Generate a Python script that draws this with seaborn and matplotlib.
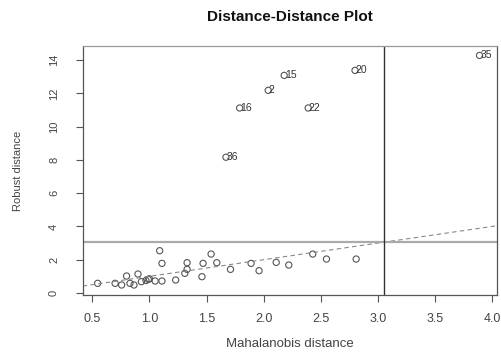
import matplotlib
matplotlib.use("Agg")
import matplotlib.pyplot as plt
import seaborn as sns
import pandas as pd

# ---- data ----
mahalanobis = [0.547, 0.70, 0.757, 0.80, 0.83, 0.865, 0.90, 0.93, 0.97, 0.99,
               1.00, 1.05, 1.09, 1.11, 1.11, 1.23, 1.31, 1.33, 1.33, 1.46,
               1.47, 1.54, 1.59, 1.71, 1.89, 1.96, 2.11, 2.22, 2.43, 2.55,
               2.81]
robust = [0.58, 0.58, 0.48, 1.02, 0.58, 0.48, 1.14, 0.68, 0.75, 0.82,
          0.85, 0.72, 2.54, 1.78, 0.72, 0.78, 1.18, 1.82, 1.42, 0.98,
          1.78, 2.34, 1.82, 1.42, 1.78, 1.34, 1.84, 1.68, 2.34, 2.04,
          2.04]
out_labels = ["35", "20", "15", "2", "16", "22", "36"]
out_md = [3.89, 2.80, 2.18, 2.04, 1.79, 2.39, 1.67]
out_rd = [14.28, 13.38, 13.08, 12.18, 11.12, 11.12, 8.16]
cutoff = 3.057
x_ticks = [0.5, 1.0, 1.5, 2.0, 2.5, 3.0, 3.5, 4.0]
y_ticks = [0, 2, 4, 6, 8, 10, 12, 14]

df = pd.DataFrame({"md": mahalanobis + out_md, "rd": robust + out_rd})

sns.set_style("white")
plt.rcParams["font.family"] = ["Liberation Sans", "DejaVu Sans"]

fig = plt.figure(figsize=(5.02, 3.52), dpi=100)
ax = fig.add_axes([0.1647, 0.162, 0.8247, 0.707])

sns.scatterplot(data=df, x="md", y="rd", marker="o", s=20,
                facecolor="none", edgecolor="#555555", linewidth=0.8, ax=ax)

for lab, x, y in zip(out_labels, out_md, out_rd):
    ax.annotate(lab, (x, y), xytext=(0.5, 0), textcoords="offset points",
                ha="left", va="center", fontsize=7.5, color="#333333")

ax.axline((0, 0), slope=1, color="#888888", lw=0.8, ls=(0, (4, 3)))
ax.axhline(cutoff, color="#aaaaaa", lw=1.6)
ax.axvline(cutoff, color="#333333", lw=1.0)

ax.set_xlim(0.416, 4.04)
ax.set_ylim(-0.12, 14.84)
ax.set_xticks(x_ticks)
ax.set_xticklabels([f"{t:.1f}" for t in x_ticks])
ax.set_yticks(y_ticks)
ax.set_yticklabels([str(t) for t in y_ticks], rotation=90, va="center")
ax.tick_params(axis="both", direction="out", length=5, width=0.8,
               color="#555555", labelcolor="#444444", labelsize=9,
               bottom=True, left=True)
ax.tick_params(axis="x", pad=8)
ax.tick_params(axis="y", pad=12, labelsize=8)

for name, sp in ax.spines.items():
    sp.set_visible(True)
    sp.set_color("#555555")
    sp.set_linewidth(0.9)
ax.spines["top"].set_color("#999999")

ax.set_xlabel("Mahalanobis distance", fontsize=9.5, color="#444444", labelpad=9)
ax.set_ylabel("Robust distance", fontsize=8, color="#444444", labelpad=19)
ax.set_title("Distance-Distance Plot", fontsize=11, fontweight="bold",
             color="#111111", pad=18)

fig.savefig("out.png", dpi=100)
